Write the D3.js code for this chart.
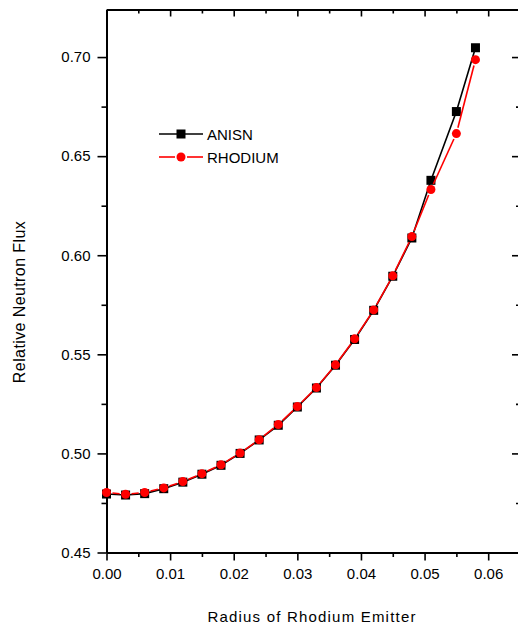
<!DOCTYPE html>
<html>
<head>
<meta charset="utf-8">
<script src="https://cdn.jsdelivr.net/npm/d3@7/dist/d3.min.js"></script>
<style>
  html, body { margin: 0; padding: 0; background: #fff; }
  svg { display: block; font-family: Arial, "Liberation Sans", sans-serif; }
  .axis path, .axis line { stroke: #000; }
  .axis text { fill: #000; font-size: 15px; }
</style>
</head>
<body>
<div id="chart"></div>
<script>
;(function() {
  "use strict";

  // Data
  // ---------------------------------------------------------------------------
  var radius  = [0.000, 0.003, 0.006, 0.009, 0.012, 0.015, 0.018, 0.021, 0.024, 0.027,
                 0.030, 0.033, 0.036, 0.039, 0.042, 0.045, 0.048, 0.051, 0.055, 0.058];
  var anisn   = [0.4795, 0.4790, 0.4797, 0.4822, 0.4855, 0.4895, 0.4940, 0.5000, 0.5068, 0.5142,
                 0.5234, 0.5330, 0.5445, 0.5575, 0.5722, 0.5894, 0.6087, 0.6378, 0.6725, 0.7047];
  var rhodium = [0.4803, 0.4794, 0.4803, 0.4826, 0.4858, 0.4898, 0.4943, 0.5002, 0.5069, 0.5146,
                 0.5237, 0.5332, 0.5447, 0.5578, 0.5724, 0.5896, 0.6094, 0.6332, 0.6614, 0.6987];

  var xTicks      = [0.00, 0.01, 0.02, 0.03, 0.04, 0.05, 0.06];
  var xMinorTicks = [0.005, 0.015, 0.025, 0.035, 0.045, 0.055];
  var yTicks      = [0.45, 0.50, 0.55, 0.60, 0.65, 0.70];
  var yMinorTicks = [0.475, 0.525, 0.575, 0.625, 0.675];

  var seriesNames = ["ANISN", "RHODIUM"];

  // Dimensions
  // ---------------------------------------------------------------------------
  var W = 518, H = 630;
  var left = 106.5, right = 520, top = 9.5, bottom = 552.5;

  var x = d3.scaleLinear().domain([0, 0.065]).range([left, right]);
  var y = d3.scaleLinear().domain([0.45, 0.724]).range([bottom, top]);

  var fmt = d3.format(".2f");

  var svg = d3.select("#chart").append("svg")
    .attr("width", W)
    .attr("height", H);

  // Axes
  // ---------------------------------------------------------------------------
  function axisGroup(axis, tx, ty) {
    var g = svg.append("g")
      .attr("class", "axis")
      .attr("transform", "translate(" + [tx, ty] + ")")
      .call(axis);
    g.select(".domain").attr("stroke-width", 2);
    g.selectAll(".tick line").attr("stroke-width", 1.6);
    return g;
  }

  // bottom
  axisGroup(d3.axisBottom(x).tickValues(xTicks).tickSize(8).tickSizeOuter(0)
    .tickPadding(8).tickFormat(fmt), 0, bottom);
  axisGroup(d3.axisBottom(x).tickValues(xMinorTicks).tickSize(4.5).tickSizeOuter(0)
    .tickFormat(""), 0, bottom);

  // top (inward ticks)
  axisGroup(d3.axisTop(x).tickValues(xTicks).tickSize(-7).tickSizeOuter(0)
    .tickFormat(""), 0, top);
  axisGroup(d3.axisTop(x).tickValues(xMinorTicks).tickSize(-4).tickSizeOuter(0)
    .tickFormat(""), 0, top);

  // left
  axisGroup(d3.axisLeft(y).tickValues(yTicks).tickSize(9).tickSizeOuter(0)
    .tickPadding(7).tickFormat(fmt), left, 0);
  axisGroup(d3.axisLeft(y).tickValues(yMinorTicks).tickSize(5).tickSizeOuter(0)
    .tickFormat(""), left, 0);

  // right (inward ticks)
  axisGroup(d3.axisRight(y).tickValues(yTicks).tickSize(-8).tickSizeOuter(0)
    .tickFormat(""), right, 0);
  axisGroup(d3.axisRight(y).tickValues(yMinorTicks).tickSize(-4).tickSizeOuter(0)
    .tickFormat(""), right, 0);

  // Axis titles
  svg.append("text")
    .attr("x", 312)
    .attr("y", 622)
    .attr("text-anchor", "middle")
    .attr("font-size", 15)
    .attr("letter-spacing", 1.2)
    .text("Radius of Rhodium Emitter");

  svg.append("text")
    .attr("transform", "translate(25,302) rotate(-90)")
    .attr("text-anchor", "middle")
    .attr("font-size", 16)
    .attr("letter-spacing", 0.4)
    .text("Relative Neutron Flux");

  // Series
  // ---------------------------------------------------------------------------
  var anisnPts = radius.map(function(r, i) { return [x(r), y(anisn[i])]; });
  var rhodPts  = radius.map(function(r, i) { return [x(r), y(rhodium[i])]; });

  var line = d3.line();

  svg.append("path")
    .attr("d", line(anisnPts))
    .attr("fill", "none")
    .attr("stroke", "#000")
    .attr("stroke-width", 1.6);

  svg.append("g").selectAll("rect")
    .data(anisnPts)
    .enter().append("rect")
      .attr("x", function(d) { return d[0] - 4.5; })
      .attr("y", function(d) { return d[1] - 4.5; })
      .attr("width", 9)
      .attr("height", 9)
      .attr("fill", "#000");

  // red line with small gaps around each symbol
  var gap = 6;
  var segs = d3.pairs(rhodPts).map(function(p) {
    var dx = p[1][0] - p[0][0], dy = p[1][1] - p[0][1];
    var len = Math.sqrt(dx * dx + dy * dy);
    var ux = dx / len, uy = dy / len;
    return [[p[0][0] + ux * gap, p[0][1] + uy * gap],
            [p[1][0] - ux * gap, p[1][1] - uy * gap]];
  });

  svg.append("g").selectAll("path")
    .data(segs)
    .enter().append("path")
      .attr("d", line)
      .attr("fill", "none")
      .attr("stroke", "#f00")
      .attr("stroke-width", 1.6);

  svg.append("g").selectAll("circle")
    .data(rhodPts)
    .enter().append("circle")
      .attr("cx", function(d) { return d[0]; })
      .attr("cy", function(d) { return d[1]; })
      .attr("r", 4.5)
      .attr("fill", "#f00");

  // Legend
  // ---------------------------------------------------------------------------
  var legend = svg.append("g").attr("transform", "translate(159,134)");

  legend.append("line")
    .attr("x1", 0).attr("x2", 44).attr("y1", 0).attr("y2", 0)
    .attr("stroke", "#000").attr("stroke-width", 1.6);
  legend.append("rect")
    .attr("x", 22 - 4.5).attr("y", -4.5).attr("width", 9).attr("height", 9)
    .attr("fill", "#000");

  legend.append("line")
    .attr("x1", 0).attr("x2", 16).attr("y1", 23).attr("y2", 23)
    .attr("stroke", "#f00").attr("stroke-width", 1.6);
  legend.append("line")
    .attr("x1", 28).attr("x2", 44).attr("y1", 23).attr("y2", 23)
    .attr("stroke", "#f00").attr("stroke-width", 1.6);
  legend.append("circle")
    .attr("cx", 22).attr("cy", 23).attr("r", 4.5)
    .attr("fill", "#f00");

  legend.selectAll("text")
    .data(seriesNames)
    .enter().append("text")
      .attr("x", 48)
      .attr("y", function(d, i) { return 6 + i * 23; })
      .attr("font-size", 15)
      .text(function(d) { return d; });
})();
</script>
</body>
</html>
